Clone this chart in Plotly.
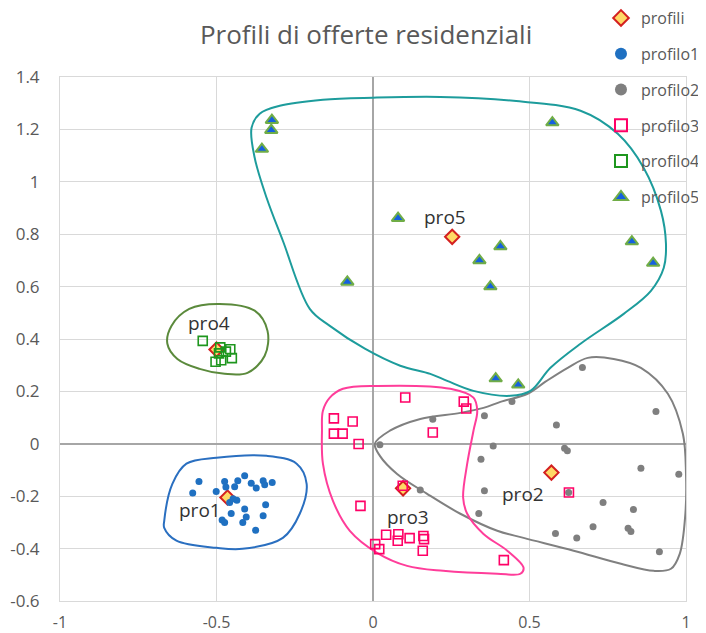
import plotly.graph_objects as go

# ---- data ----
profili_x = [-0.465, 0.57, 0.096, -0.50, 0.253]
profili_y = [-0.205, -0.11, -0.17, 0.36, 0.79]
profili_lbl = ["pro1", "pro2", "pro3", "pro4", "pro5"]

p1_x = [-0.556, -0.576, -0.474, -0.501, -0.432, -0.41, -0.442, -0.389, -0.373, -0.351, -0.346, -0.322,
        -0.458, -0.435, -0.343, -0.41, -0.453, -0.405, -0.351, -0.482, -0.474, -0.416, -0.375, -0.47, -0.447]
p1_y = [-0.144, -0.188, -0.144, -0.182, -0.141, -0.122, -0.164, -0.151, -0.169, -0.141, -0.156, -0.148,
        -0.224, -0.215, -0.233, -0.249, -0.266, -0.279, -0.275, -0.291, -0.30, -0.30, -0.33, -0.165, -0.21]

p2_x = [0.191, 0.444, 0.356, 0.022, 0.384, 0.345, 0.151, 0.356, 0.338, 0.669, 0.904, 0.586, 0.612, 0.621,
        0.856, 0.977, 0.735, 0.832, 0.703, 0.815, 0.824, 0.583, 0.651, 0.915, 0.625]
p2_y = [0.094, 0.161, 0.107, -0.004, -0.008, -0.059, -0.176, -0.179, -0.266, 0.291, 0.123, 0.072, -0.017,
        -0.027, -0.093, -0.116, -0.224, -0.251, -0.317, -0.322, -0.335, -0.342, -0.36, -0.412, -0.186]

p3_x = [0.103, 0.29, 0.298, -0.125, -0.065, -0.125, -0.097, 0.191, -0.046, 0.095, -0.04, 0.042, 0.081,
        0.079, 0.117, 0.161, 0.163, 0.159, 0.007, 0.020, 0.418, 0.626]
p3_y = [0.177, 0.161, 0.135, 0.097, 0.085, 0.039, 0.039, 0.043, -0.001, -0.16, -0.237, -0.347, -0.345,
        -0.37, -0.36, -0.352, -0.364, -0.408, -0.383, -0.402, -0.444, -0.186]

p4_x = [-0.544, -0.488, -0.456, -0.503, -0.485, -0.451, -0.492, -0.47]
p4_y = [0.393, 0.368, 0.361, 0.313, 0.319, 0.327, 0.345, 0.352]

p5_x = [-0.323, -0.325, -0.355, -0.082, 0.080, 0.573, 0.407, 0.34, 0.375, 0.827, 0.895, 0.392, 0.464]
p5_y = [1.235, 1.197, 1.125, 0.618, 0.861, 1.226, 0.753, 0.70, 0.60, 0.772, 0.69, 0.249, 0.225]

# cluster outlines (hand-drawn loops)
c1_x = [-0.5, -0.34, -0.244, -0.212, -0.234, -0.288, -0.417, -0.5, -0.628, -0.667, -0.667, -0.641, -0.596, -0.5]
c1_y = [-0.053, -0.046, -0.076, -0.153, -0.267, -0.359, -0.401, -0.397, -0.370, -0.321, -0.294, -0.153, -0.076, -0.053]

c2_x = [0.006, 0.054, 0.151, 0.279, 0.353, 0.407, 0.494, 0.551, 0.622, 0.686, 0.769, 0.856, 0.942, 0.99,
        1.0, 0.998, 0.98, 0.952, 0.897, 0.792, 0.641, 0.481, 0.397, 0.279, 0.173, 0.077, 0.022, 0.006]
c2_y = [0.0, 0.050, 0.095, 0.118, 0.137, 0.160, 0.191, 0.237, 0.290, 0.328, 0.324, 0.290, 0.191, 0.038,
        -0.115, -0.267, -0.420, -0.477, -0.485, -0.458, -0.408, -0.359, -0.332, -0.267, -0.191, -0.115, -0.046, 0.0]

c3_x = [0.013, 0.247, 0.321, 0.333, 0.321, 0.301, 0.288, 0.301, 0.353, 0.429, 0.481, 0.471, 0.397, 0.224,
        0.109, 0.013, -0.074, -0.128, -0.160, -0.163, -0.160, -0.138, -0.096, 0.013]
c3_y = [0.221, 0.210, 0.176, 0.126, 0.050, -0.076, -0.206, -0.267, -0.344, -0.408, -0.473, -0.496, -0.496,
        -0.485, -0.466, -0.416, -0.332, -0.218, -0.076, 0.050, 0.126, 0.176, 0.210, 0.221]

c4_x = [-0.49, -0.378, -0.337, -0.346, -0.401, -0.474, -0.554, -0.625, -0.657, -0.644, -0.587, -0.49]
c4_y = [0.534, 0.508, 0.431, 0.336, 0.271, 0.267, 0.286, 0.324, 0.382, 0.45, 0.515, 0.534]

c5_x = [0.0, 0.215, 0.449, 0.663, 0.782, 0.865, 0.920, 0.936, 0.929, 0.888, 0.801, 0.663, 0.567, 0.503,
        0.439, 0.321, 0.237, 0.183, 0.087, -0.026, -0.138, -0.202, -0.288, -0.340, -0.378, -0.388, -0.362,
        -0.298, -0.160, 0.0]
c5_y = [1.321, 1.324, 1.309, 1.271, 1.183, 1.053, 0.889, 0.763, 0.672, 0.584, 0.496, 0.382, 0.29, 0.202,
        0.183, 0.202, 0.240, 0.267, 0.298, 0.363, 0.450, 0.515, 0.775, 0.939, 1.092, 1.206, 1.26, 1.29,
        1.313, 1.321]

xticks = [-1, -0.5, 0, 0.5, 1]
yticks = [-0.6, -0.4, -0.2, 0, 0.2, 0.4, 0.6, 0.8, 1, 1.2, 1.4]

FONT = "Open Sans, sans-serif"

fig = go.Figure()

outlines = [(c1_x, c1_y, "#2a6fc0"), (c2_x, c2_y, "#808080"), (c3_x, c3_y, "#ff3d9a"),
            (c4_x, c4_y, "#5b8a3c"), (c5_x, c5_y, "#1d9c9c")]
for cx, cy, col in outlines:
    fig.add_trace(go.Scatter(x=cx, y=cy, mode="lines", showlegend=False, hoverinfo="skip",
                             line=dict(color=col, width=2, shape="spline", smoothing=1.0)))

fig.add_trace(go.Scatter(x=profili_x, y=profili_y, mode="markers", name="profili",
                         marker=dict(symbol="diamond", size=11, color="#ffd966",
                                     line=dict(color="#d42020", width=2)),
                         legendgroup="a"))
fig.add_trace(go.Scatter(x=p1_x, y=p1_y, mode="markers", name="profilo1",
                         marker=dict(symbol="circle", size=7, color="#1f70c1"), legendgroup="b"))
fig.add_trace(go.Scatter(x=p2_x, y=p2_y, mode="markers", name="profilo2",
                         marker=dict(symbol="circle", size=7, color="#7f7f7f"), legendgroup="c"))
fig.add_trace(go.Scatter(x=p3_x, y=p3_y, mode="markers", name="profilo3",
                         marker=dict(symbol="square-open", size=9, color="#ff0066",
                                     line=dict(color="#ff0066", width=1.6)), legendgroup="d"))
fig.add_trace(go.Scatter(x=p4_x, y=p4_y, mode="markers", name="profilo4",
                         marker=dict(symbol="square-open", size=9, color="#1e961e",
                                     line=dict(color="#1e961e", width=1.6)), legendgroup="e"))
fig.add_trace(go.Scatter(x=p5_x, y=p5_y, mode="markers", name="profilo5",
                         marker=dict(symbol="triangle-up", size=11, color="#1560e0",
                                     line=dict(color="#70ad47", width=2)), legendgroup="f"))

# data labels of the "profili" series, offset in pixels from their points
lbl_dx = [-27, -28, 5, -8, -7]
lbl_dy = [-12, -21, -29, 26, 20]
for x, y, t, dx, dy in zip(profili_x, profili_y, profili_lbl, lbl_dx, lbl_dy):
    fig.add_annotation(x=x, y=y, text=t, showarrow=False, xshift=dx, yshift=dy,
                       font=dict(size=19, color="#333333", family=FONT))

axis_common = dict(showgrid=True, gridcolor="#d9d9d9", gridwidth=1,
                   zeroline=True, zerolinecolor="#a6a6a6", zerolinewidth=1.5,
                   showline=True, linecolor="#d9d9d9", mirror=True, ticks="",
                   automargin=False)

# the page body adds an 8px offset, so the figure is sized to the remaining window
fig.update_layout(
    width=698, height=625,
    margin=dict(l=52, r=20, t=69, b=32, autoexpand=False),
    paper_bgcolor="white", plot_bgcolor="white",
    title=dict(text="Profili di offerte residenziali", x=0.513, xanchor="center", xref="container",
               y=0.957, yanchor="middle", yref="container", automargin=False,
               font=dict(size=26, color="#595959", family=FONT)),
    xaxis=dict(range=[-1, 1], tickvals=xticks, ticktext=[str(v) for v in xticks],
               ticklabelstandoff=7, tickfont=dict(size=16, color="#595959", family=FONT),
               **axis_common),
    yaxis=dict(range=[-0.6, 1.4], tickvals=yticks, ticktext=[str(v) for v in yticks],
               ticklabelstandoff=16, tickfont=dict(size=17, color="#595959", family=FONT),
               **axis_common),
    legend=dict(x=0.8642, y=1.145, xanchor="left", yanchor="top", bgcolor="rgba(255,255,255,0)",
                font=dict(size=16, color="#595959", family=FONT),
                tracegroupgap=12, itemsizing="constant", traceorder="grouped"),
    showlegend=True,
)

fig.write_html("out.html")
